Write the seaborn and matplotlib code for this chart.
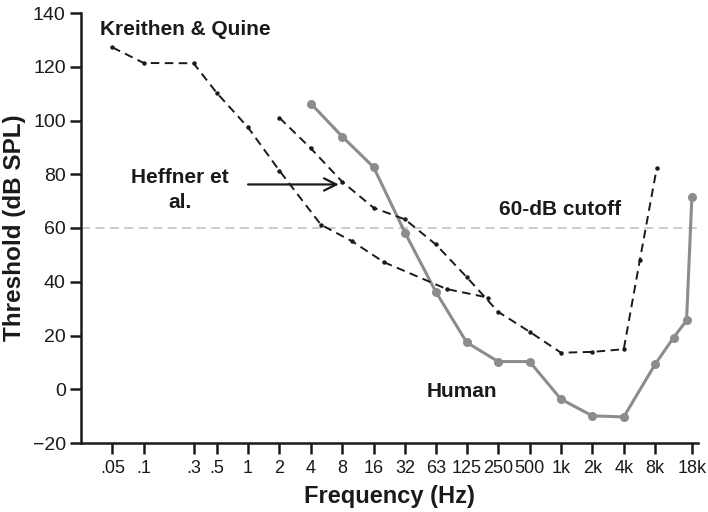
import matplotlib
matplotlib.use("Agg")
import matplotlib.pyplot as plt
import seaborn as sns
import pandas as pd

# Hearing threshold curves (frequency in Hz, threshold in dB SPL)
kq_freq = [0.05, 0.1, 0.3, 0.5, 1, 2, 5, 10, 20, 80, 200]
kq_db = [127.2, 121.4, 121.3, 110.3, 97.4, 81.3, 61.2, 55.0, 47.3, 37.3, 34.1]

hef_freq = [2, 4, 8, 16, 32, 63, 125, 250, 500, 1000, 2000, 4000, 5700, 8300]
hef_db = [101.0, 89.6, 77.2, 67.5, 63.2, 53.9, 41.7, 28.8, 21.4, 13.6, 13.9, 14.9, 48.0, 82.4]

hum_freq = [4, 8, 16, 32, 63, 125, 250, 500, 1000, 2000, 4000, 8000, 12000, 16000, 18000]
hum_db = [106.3, 94.0, 82.6, 58.2, 36.3, 17.4, 10.3, 10.3, -3.7, -9.9, -10.3, 9.3, 19.2, 25.6, 71.6]

tick_freq = [0.05, 0.1, 0.3, 0.5, 1, 2, 4, 8, 16, 32, 63, 125, 250, 500,
             1000, 2000, 4000, 8000, 18000]
tick_labels = [".05", ".1", ".3", ".5", "1", "2", "4", "8", "16", "32", "63",
               "125", "250", "500", "1k", "2k", "4k", "8k", "18k"]
y_ticks = [-20, 0, 20, 40, 60, 80, 100, 120, 140]
cutoff_db = 60

sns.set_style("ticks")
plt.rcParams["font.family"] = ["Liberation Sans", "DejaVu Sans"]
plt.rcParams["axes.unicode_minus"] = True

txt = "#1a1a1a"
grey = "#8c8c8c"

fig = plt.figure(figsize=(7.08, 5.12), dpi=100)
ax = fig.add_axes([81 / 708, 1 - 443 / 512, (698 - 81) / 708, (443 - 13) / 512])

ax.axhline(cutoff_db, color="#c8c8c8", lw=1.3, ls=(0, (5, 3)), zorder=1,
           clip_on=False, xmax=1.007)

kq = pd.DataFrame({"freq": kq_freq, "db": kq_db})
hef = pd.DataFrame({"freq": hef_freq, "db": hef_db})
hum = pd.DataFrame({"freq": hum_freq, "db": hum_db})

dash = (0, (4.4, 2.8))
for df in (kq, hef):
    sns.lineplot(data=df, x="freq", y="db", ax=ax, color=txt, lw=1.4,
                 marker="o", markersize=3.2, markeredgewidth=0, sort=False,
                 zorder=3)
    ax.lines[-1].set_linestyle(dash)

sns.lineplot(data=hum, x="freq", y="db", ax=ax, color=grey, lw=2.2,
             marker="o", markersize=6.5, markeredgewidth=0, sort=False,
             zorder=2)

ax.set_xscale("log")
ax.set_xlim(0.025, 20600)
ax.set_ylim(-20, 140)
ax.set_xticks(tick_freq)
ax.set_xticklabels(tick_labels)
ax.xaxis.set_minor_locator(matplotlib.ticker.NullLocator())
ax.set_yticks(y_ticks)
ax.set_yticklabels([("\u2212" + str(-v)) if v < 0 else str(v) for v in y_ticks])

for s in ("left", "bottom"):
    ax.spines[s].set_linewidth(1.8)
    ax.spines[s].set_color(txt)
for s in ("top", "right"):
    ax.spines[s].set_visible(False)
ax.tick_params(axis="both", direction="out", length=8, width=1.8, color=txt,
               labelcolor=txt, pad=3)
ax.tick_params(axis="y", labelsize=14)
ax.tick_params(axis="x", labelsize=13, pad=4)

ax.set_xlabel("Frequency (Hz)", fontsize=17, fontweight="bold", color=txt,
              labelpad=6)
ax.set_ylabel("Threshold (dB SPL)", fontsize=17.5, fontweight="bold", color=txt,
              labelpad=5)

ann = dict(fontsize=15, fontweight="bold", color=txt)
ax.text(0.038, 133.8, "Kreithen & Quine", ha="left", va="center", **ann)
ax.text(0.223, 74.0, "Heffner et\nal.", ha="center", va="center",
        linespacing=1.4, **ann)
ax.annotate("", xy=(7.4, 76.2), xytext=(1.0, 76.2),
            arrowprops=dict(arrowstyle="->", color=txt, lw=1.6,
                            mutation_scale=22, shrinkA=0, shrinkB=0))
ax.text(254, 66.9, "60-dB cutoff", ha="left", va="center", **ann)
ax.text(52, -0.7, "Human", ha="left", va="center", **ann)

fig.savefig("out.png", dpi=100)
